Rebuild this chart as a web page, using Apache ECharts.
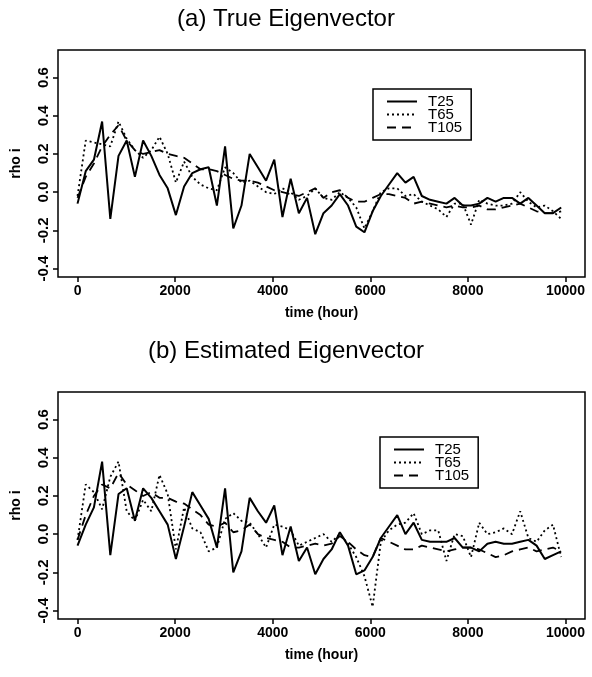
<!DOCTYPE html>
<html>
<head>
<meta charset="utf-8">
<script src="https://cdn.jsdelivr.net/npm/echarts@6.0.0/dist/echarts.min.js"></script>
<style>
  html, body { margin: 0; padding: 0; background: #fff; }
  #chart { width: 592px; height: 677px; }
</style>
</head>
<body>
<div id="chart"></div>
<script>
  // sampling times (hour), one per week
  var hours = [0, 168, 336, 504, 672, 840, 1008, 1176, 1344, 1512,
    1680, 1848, 2016, 2184, 2352, 2520, 2688, 2856, 3024, 3192,
    3360, 3528, 3696, 3864, 4032, 4200, 4368, 4536, 4704, 4872,
    5040, 5208, 5376, 5544, 5712, 5880, 6048, 6216, 6384, 6552,
    6720, 6888, 7056, 7224, 7392, 7560, 7728, 7896, 8064, 8232,
    8400, 8568, 8736, 8904, 9072, 9240, 9408, 9576, 9744, 9912];

  // (a) true eigenvector
  var trueT25 = [-0.06, 0.11, 0.17, 0.37, -0.14, 0.19, 0.27, 0.08, 0.27, 0.19,
    0.09, 0.02, -0.12, 0.03, 0.10, 0.12, 0.13, -0.07, 0.24, -0.19,
    -0.07, 0.20, 0.13, 0.06, 0.17, -0.13, 0.07, -0.11, -0.03, -0.22,
    -0.11, -0.07, -0.01, -0.07, -0.18, -0.21, -0.10, -0.02, 0.04, 0.10,
    0.05, 0.08, -0.02, -0.04, -0.05, -0.06, -0.03, -0.07, -0.07, -0.06,
    -0.03, -0.05, -0.03, -0.03, -0.06, -0.03, -0.07, -0.11, -0.11, -0.08];
  var trueT65 = [-0.02, 0.27, 0.26, 0.25, 0.24, 0.37, 0.28, 0.22, 0.18, 0.22,
    0.29, 0.20, 0.05, 0.16, 0.08, 0.04, 0.02, 0.01, 0.13, 0.10,
    0.05, 0.06, 0.03, 0.00, -0.01, 0.02, 0.00, -0.04, -0.02, 0.02,
    -0.03, -0.04, 0.00, -0.03, -0.08, -0.19, -0.10, 0.00, 0.02, 0.02,
    -0.02, -0.01, -0.05, -0.07, -0.09, -0.13, -0.06, -0.06, -0.17, -0.04,
    -0.06, -0.07, -0.07, -0.06, 0.00, -0.05, -0.08, -0.07, -0.10, -0.14];
  var trueT105 = [-0.03, 0.08, 0.15, 0.24, 0.30, 0.35, 0.27, 0.22, 0.20, 0.21,
    0.22, 0.20, 0.19, 0.18, 0.15, 0.12, 0.12, 0.11, 0.09, 0.07,
    0.06, 0.06, 0.05, 0.03, 0.01, 0.00, -0.01, -0.02, 0.00, 0.02,
    -0.03, 0.00, 0.01, -0.03, -0.05, -0.05, -0.03, -0.01, -0.01, -0.02,
    -0.03, -0.06, -0.05, -0.06, -0.07, -0.08, -0.07, -0.08, -0.08, -0.07,
    -0.09, -0.09, -0.08, -0.07, -0.06, -0.08, -0.10, -0.11, -0.11, -0.10];

  // (b) estimated eigenvector
  var estT25 = [-0.06, 0.05, 0.14, 0.38, -0.11, 0.21, 0.24, 0.07, 0.24, 0.19,
    0.12, 0.05, -0.13, 0.04, 0.22, 0.15, 0.08, -0.07, 0.24, -0.20,
    -0.09, 0.19, 0.12, 0.06, 0.15, -0.11, 0.04, -0.14, -0.07, -0.21,
    -0.13, -0.08, 0.01, -0.06, -0.21, -0.19, -0.12, -0.02, 0.04, 0.10,
    0.00, 0.06, -0.03, -0.04, -0.04, -0.04, -0.02, -0.07, -0.07, -0.09,
    -0.05, -0.04, -0.05, -0.05, -0.04, -0.03, -0.06, -0.13, -0.11, -0.09];
  var estT65 = [-0.03, 0.26, 0.22, 0.13, 0.30, 0.38, 0.12, 0.07, 0.18, 0.12,
    0.31, 0.21, -0.08, 0.14, 0.03, 0.01, -0.09, -0.07, 0.08, 0.11,
    0.07, 0.06, 0.00, -0.07, 0.05, 0.04, 0.02, -0.06, -0.04, -0.02,
    0.00, -0.04, 0.00, -0.05, -0.12, -0.22, -0.38, -0.04, 0.02, 0.05,
    0.06, 0.11, 0.00, 0.02, 0.02, -0.14, 0.00, -0.01, -0.12, 0.06,
    0.00, 0.01, 0.03, 0.00, 0.12, -0.02, -0.04, 0.02, 0.05, -0.12];
  var estT105 = [-0.03, 0.10, 0.20, 0.26, 0.24, 0.32, 0.26, 0.23, 0.20, 0.22,
    0.19, 0.19, 0.17, 0.16, 0.13, 0.10, 0.05, 0.04, 0.06, 0.01,
    0.02, 0.05, 0.00, -0.02, -0.03, -0.04, -0.07, -0.07, -0.06, -0.05,
    -0.06, -0.05, -0.01, -0.04, -0.08, -0.11, -0.12, -0.02, -0.04, -0.06,
    -0.08, -0.08, -0.06, -0.07, -0.08, -0.09, -0.08, -0.07, -0.07, -0.08,
    -0.10, -0.12, -0.11, -0.09, -0.08, -0.07, -0.09, -0.08, -0.07, -0.09];

  var names = ['T25', 'T65', 'T105'];
  var xTicks = [0, 2000, 4000, 6000, 8000, 10000];
  var yTicks = [-0.4, -0.2, 0.0, 0.2, 0.4, 0.6];
  var titles = ['(a) True Eigenvector', '(b) Estimated Eigenvector'];

  var font = 'Liberation Sans, Arial, sans-serif';
  var dashes = ['solid', [2, 3], [9, 6]];
  var widths = [2, 1.8, 1.8];

  function pair(vals) {
    return hours.map(function (h, i) { return [h, vals[i]]; });
  }

  function xAxisFor(idx) {
    return {
      type: 'value', gridIndex: idx, min: -400, max: 10400,
      axisLine: { show: false, onZero: false },
      splitLine: { show: false },
      axisTick: { show: true, customValues: xTicks, length: 5, lineStyle: { color: '#000', width: 1.5 } },
      axisLabel: {
        customValues: xTicks, color: '#000', fontSize: 14, fontWeight: 'bold', fontFamily: font, margin: 7,
        formatter: function (v) { return String(v); }
      },
      name: 'time (hour)', nameLocation: 'middle', nameGap: 29,
      nameTextStyle: { color: '#000', fontSize: 14, fontWeight: 'bold', fontFamily: font }
    };
  }
  function yAxisFor(idx) {
    return {
      type: 'value', gridIndex: idx, min: -0.444, max: 0.744,
      axisLine: { show: false, onZero: false },
      splitLine: { show: false },
      axisTick: { show: true, customValues: yTicks, length: 5, lineStyle: { color: '#000', width: 1.5 } },
      axisLabel: {
        customValues: yTicks, rotate: 90, color: '#000', fontSize: 15, fontWeight: 'bold', fontFamily: font, margin: 7,
        formatter: function (v) { return v.toFixed(1); }
      },
      name: 'rho i', nameLocation: 'middle', nameGap: 35, nameRotate: 90,
      nameTextStyle: { color: '#000', fontSize: 14, fontWeight: 'bold', fontFamily: font }
    };
  }
  function seriesFor(idx, sets) {
    return sets.map(function (vals, k) {
      return {
        name: names[k], type: 'line', xAxisIndex: idx, yAxisIndex: idx,
        data: pair(vals), symbol: 'none', animation: false, color: '#000',
        lineStyle: { color: '#000', width: widths[k], type: dashes[k] }
      };
    });
  }
  function legendFor(left, top) {
    return {
      orient: 'vertical', left: left, top: top, data: names,
      itemWidth: 30, itemHeight: 10, itemGap: -2,
      borderColor: '#000', borderWidth: 1.5, padding: [5, 9, 5, 13],
      selectedMode: false,
      itemStyle: { opacity: 0 },
      textStyle: {
        color: '#000', fontSize: 15, fontFamily: 'Liberation Sans Narrow, Liberation Sans, sans-serif',
        lineHeight: 13, padding: [0, 0, 0, 6]
      }
    };
  }

  var chart = echarts.init(document.getElementById('chart'), null, { renderer: 'canvas' });
  chart.setOption({
    backgroundColor: '#fff',
    animation: false,
    title: [
      { text: titles[0], left: 281, top: 2, textAlign: 'center',
        textStyle: { color: '#000', fontSize: 24, fontWeight: 'normal', fontFamily: font } },
      { text: titles[1], left: 281, top: 334, textAlign: 'center',
        textStyle: { color: '#000', fontSize: 24, fontWeight: 'normal', fontFamily: font } }
    ],
    legend: [legendFor(373, 89), legendFor(380, 437)],
    grid: [
      { left: 58, top: 50, width: 527, height: 227, show: true, borderColor: '#000', borderWidth: 1.5, backgroundColor: 'transparent' },
      { left: 58, top: 392, width: 527, height: 227, show: true, borderColor: '#000', borderWidth: 1.5, backgroundColor: 'transparent' }
    ],
    xAxis: [xAxisFor(0), xAxisFor(1)],
    yAxis: [yAxisFor(0), yAxisFor(1)],
    series: seriesFor(0, [trueT25, trueT65, trueT105]).concat(seriesFor(1, [estT25, estT65, estT105]))
  });
</script>
</body>
</html>
